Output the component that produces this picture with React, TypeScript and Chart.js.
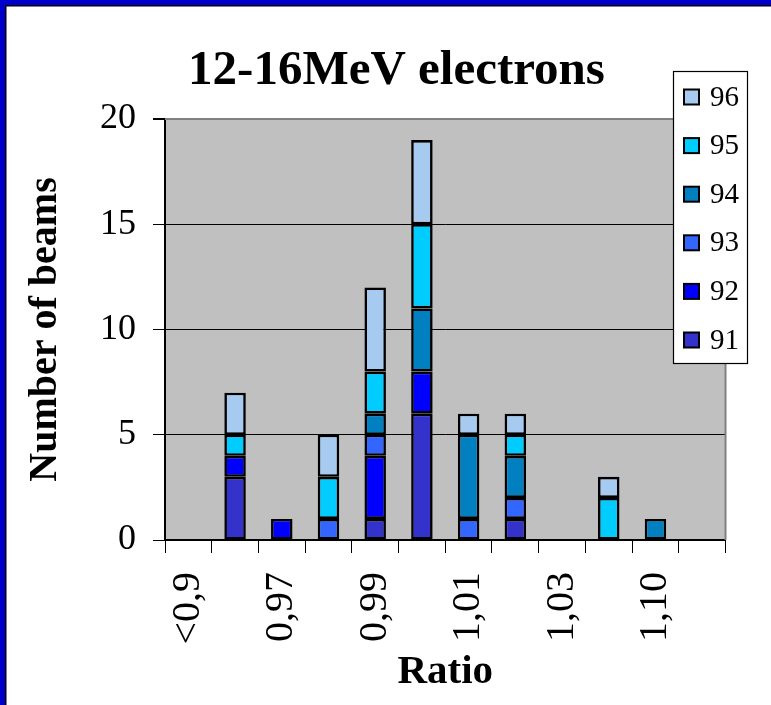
import { useEffect, useRef } from "react";
import { Chart, registerables } from "chart.js";

Chart.register(...registerables);

const categories = ["<0,9", "0,96", "0,97", "0,98", "0,99", "1,00", "1,01", "1,02", "1,03", "1,05", "1,10", ">1,10"];
const shownTickLabels = ["<0,9", "0,97", "0,99", "1,01", "1,03", "1,10"];
const seriesNames = ["91", "92", "93", "94", "95", "96"];
const s91 = [0, 3, 0, 0, 1, 6, 0, 1, 0, 0, 0, 0];
const s92 = [0, 1, 1, 0, 3, 2, 0, 0, 0, 0, 0, 0];
const s93 = [0, 0, 0, 1, 1, 0, 1, 1, 0, 0, 0, 0];
const s94 = [0, 0, 0, 0, 1, 3, 4, 2, 0, 0, 1, 0];
const s95 = [0, 1, 0, 2, 2, 4, 0, 1, 0, 2, 0, 0];
const s96 = [0, 2, 0, 2, 4, 4, 1, 1, 0, 1, 0, 0];
const seriesValues = [s91, s92, s93, s94, s95, s96];
const seriesColors = ["#3333CC", "#0000FF", "#3366FF", "#0080C0", "#00CCFF", "#A6CAF0"];
const yMin = 0;
const yMax = 20;
const yStep = 5;

const titleText = "12-16MeV electrons";
const yTitle = "Number of beams";
const xTitle = "Ratio";
const SERIF = '"Liberation Serif", "Times New Roman", serif';

const W = 771;
const H = 705;

const decorPlugin = {
  id: "decor",
  beforeDraw(chart: any) {
    const { ctx, chartArea } = chart;
    ctx.save();
    ctx.fillStyle = "#ffffff";
    ctx.fillRect(0, 0, W, H);
    ctx.fillStyle = "#C0C0C0";
    ctx.fillRect(chartArea.left, chartArea.top, chartArea.right - chartArea.left, chartArea.bottom - chartArea.top);
    ctx.restore();
  },
  beforeDatasetsDraw(chart: any) {
    const { ctx, chartArea } = chart;
    ctx.save();
    ctx.strokeStyle = "#808080";
    ctx.lineWidth = 2;
    ctx.beginPath();
    ctx.moveTo(chartArea.left, chartArea.top);
    ctx.lineTo(chartArea.right, chartArea.top);
    ctx.lineTo(chartArea.right, chartArea.bottom);
    ctx.stroke();
    ctx.restore();
  },
  afterDraw(chart: any) {
    const { ctx } = chart;
    ctx.save();
    // frame
    ctx.fillStyle = "#0000CC";
    ctx.fillRect(0, 0, W, 5);
    ctx.fillRect(0, 0, 5, H);
    ctx.fillStyle = "#000000";
    ctx.fillRect(5, 5, W - 5, 1.5);
    ctx.fillRect(5, 5, 1.5, H - 5);
    // title
    ctx.fillStyle = "#000";
    ctx.font = `bold 49px ${SERIF}`;
    ctx.textAlign = "center";
    ctx.textBaseline = "alphabetic";
    ctx.fillText(titleText, 396.5, 84);
    // legend
    const lx = 673, ly = 71, lw = 74, lh = 292;
    ctx.fillStyle = "#fff";
    ctx.fillRect(lx, ly, lw, lh);
    ctx.strokeStyle = "#000";
    ctx.lineWidth = 1.2;
    ctx.strokeRect(lx + 0.5, ly + 0.5, lw, lh);
    ctx.font = `29px ${SERIF}`;
    ctx.textAlign = "left";
    ctx.textBaseline = "middle";
    const n = seriesNames.length;
    for (let i = 0; i < n; i++) {
      const si = n - 1 - i;
      const cy = 97 + i * 48.6;
      ctx.fillStyle = seriesColors[si];
      ctx.fillRect(684, cy - 7.5, 15, 15);
      ctx.strokeStyle = "#000";
      ctx.lineWidth = 2;
      ctx.strokeRect(684, cy - 7.5, 15, 15);
      ctx.fillStyle = "#000";
      ctx.fillText(seriesNames[si], 710, cy + 1);
    }
    ctx.restore();
  },
};

export default function App() {
  const ref = useRef<HTMLCanvasElement | null>(null);
  useEffect(() => {
    if (!ref.current) return;
    const chart = new Chart(ref.current, {
      type: "bar",
      data: {
        labels: categories,
        datasets: seriesNames.map((name, i) => ({
          label: name,
          data: seriesValues[i].map((v) => (v === 0 ? null : v)),
          backgroundColor: seriesColors[i],
          borderColor: "#000000",
          borderWidth: 2.6,
          borderSkipped: false,
          categoryPercentage: 1,
          barPercentage: 0.46,
        })),
      },
      options: {
        responsive: false,
        animation: false,
        devicePixelRatio: 1,
        layout: { padding: { left: 7, top: 119, right: 44, bottom: 0 } },
        plugins: {
          legend: { display: false },
          title: { display: false },
          tooltip: { enabled: false },
        },
        scales: {
          x: {
            stacked: true,
            afterFit: (s: any) => {
              s.height = H - 540;
            },
            grid: {
              offset: true,
              drawOnChartArea: false,
              drawTicks: true,
              tickLength: 13,
              color: "#000",
              tickColor: "#000",
              lineWidth: 1,
            },
            border: { display: true, color: "#000", width: 2 },
            ticks: {
              autoSkip: false,
              minRotation: 90,
              maxRotation: 90,
              padding: 19,
              color: "#000",
              font: { family: SERIF, size: 40 },
              callback: (_v: any, idx: number) =>
                shownTickLabels.includes(categories[idx]) ? categories[idx] : "",
            },
            title: {
              display: true,
              text: xTitle,
              color: "#000",
              font: { family: SERIF, size: 41, weight: "bold" },
              padding: { top: 0, bottom: 8 },
            },
          },
          y: {
            stacked: true,
            min: yMin,
            max: yMax,
            afterFit: (s: any) => {
              s.width = 165 - 7;
            },
            grid: {
              drawTicks: true,
              tickLength: 12,
              color: (c: any) => (c.tick && c.tick.value === yMax ? "#808080" : "#000"),
              lineWidth: (c: any) => (c.tick && c.tick.value === yMax ? 2 : 1),
              tickColor: "#000",
            },
            border: { display: true, color: "#000", width: 2 },
            ticks: {
              stepSize: yStep,
              padding: 17,
              color: "#000",
              font: { family: SERIF, size: 36 },
            },
            title: {
              display: true,
              text: yTitle,
              color: "#000",
              font: { family: SERIF, size: 40, weight: "bold" },
              padding: { top: 15, bottom: 0 },
            },
          },
        },
      },
      plugins: [decorPlugin],
    } as any);
    return () => chart.destroy();
  }, []);
  return (
    <div style={{ position: "absolute", left: 0, top: 0, width: W, height: H, background: "#fff" }}>
      <canvas ref={ref} width={W} height={H} style={{ display: "block", width: W, height: H }} />
    </div>
  );
}
